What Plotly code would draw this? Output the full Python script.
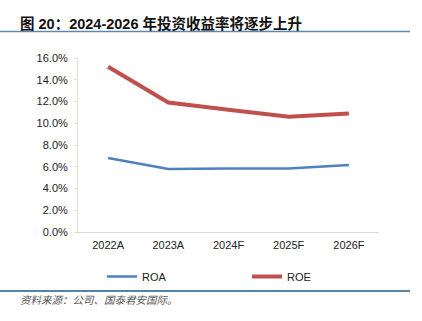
import plotly.graph_objects as go

years = ["2022A", "2023A", "2024F", "2025F", "2026F"]
roa = [6.8, 5.8, 5.85, 5.85, 6.15]
roe = [15.2, 11.9, 11.25, 10.6, 10.9]
y_ticks = [0, 2, 4, 6, 8, 10, 12, 14, 16]
y_tick_labels = [f"{v:.1f}%" for v in y_ticks]

title_text = "<b>图 20：2024-2026 年投资收益率将逐步上升</b>"
source_text = "<i>资料来源：公司、国泰君安国际。</i>"

font_family = "Liberation Sans, Arial, Noto Sans CJK SC, sans-serif"

PLOT_W, PLOT_H = 301, 174

fig = go.Figure()
fig.add_trace(go.Scatter(x=years, y=roa, name="ROA", mode="lines",
                         line=dict(color="#4F81BD", width=2.5)))
fig.add_trace(go.Scatter(x=years, y=roe, name="ROE", mode="lines",
                         line=dict(color="#C0504D", width=4)))

fig.update_layout(
    width=422, height=321,
    margin=dict(l=78, r=43, t=58, b=89),
    paper_bgcolor="white", plot_bgcolor="white",
    font=dict(family=font_family, size=11, color="#222"),
    showlegend=True,
    legend=dict(orientation="h", x=(102 - 78) / PLOT_W, y=-(262 - 232) / PLOT_H,
                xanchor="left", yanchor="top",
                entrywidth=100, itemwidth=30,
                font=dict(size=11, color="#222"), bgcolor="rgba(0,0,0,0)"),
    xaxis=dict(showgrid=False, showline=True, linecolor="#d9d9d9", linewidth=1,
               range=[-0.5, 4.5], ticks="", ticklabelstandoff=3,
               tickfont=dict(size=11), zeroline=False),
    yaxis=dict(range=[0, 16], tickvals=y_ticks, ticktext=y_tick_labels,
               showgrid=False, showline=True, linecolor="#e6e1d2", linewidth=1,
               ticks="outside", ticklen=3, tickcolor="#e6e1d2",
               ticklabelstandoff=4, tickfont=dict(size=11), zeroline=False),
)

fig.add_annotation(text=title_text, xref="paper", yref="paper",
                   x=-78 / PLOT_W, y=1 + (58 - 34) / PLOT_H,
                   xanchor="left", yanchor="bottom",
                   showarrow=False, xshift=18,
                   font=dict(family=font_family, size=14.5, color="#111"))
fig.add_annotation(text=source_text, xref="paper", yref="paper",
                   x=-78 / PLOT_W, y=-(292 - 232) / PLOT_H,
                   xanchor="left", yanchor="top",
                   showarrow=False, xshift=18,
                   font=dict(family=font_family, size=10.5, color="#555"))

# rule under the title and above the source note
fig.add_shape(type="line", xref="paper", yref="paper",
              x0=-78 / PLOT_W, x1=(410 - 78) / PLOT_W,
              y0=1 + (58 - 31.5) / PLOT_H, y1=1 + (58 - 31.5) / PLOT_H,
              line=dict(color="#5b87b5", width=1.5))
fig.add_shape(type="line", xref="paper", yref="paper",
              x0=-78 / PLOT_W, x1=(410 - 78) / PLOT_W,
              y0=-(291 - 232) / PLOT_H, y1=-(291 - 232) / PLOT_H,
              line=dict(color="#1f5a8c", width=1.3))

fig.write_html("out.html")
